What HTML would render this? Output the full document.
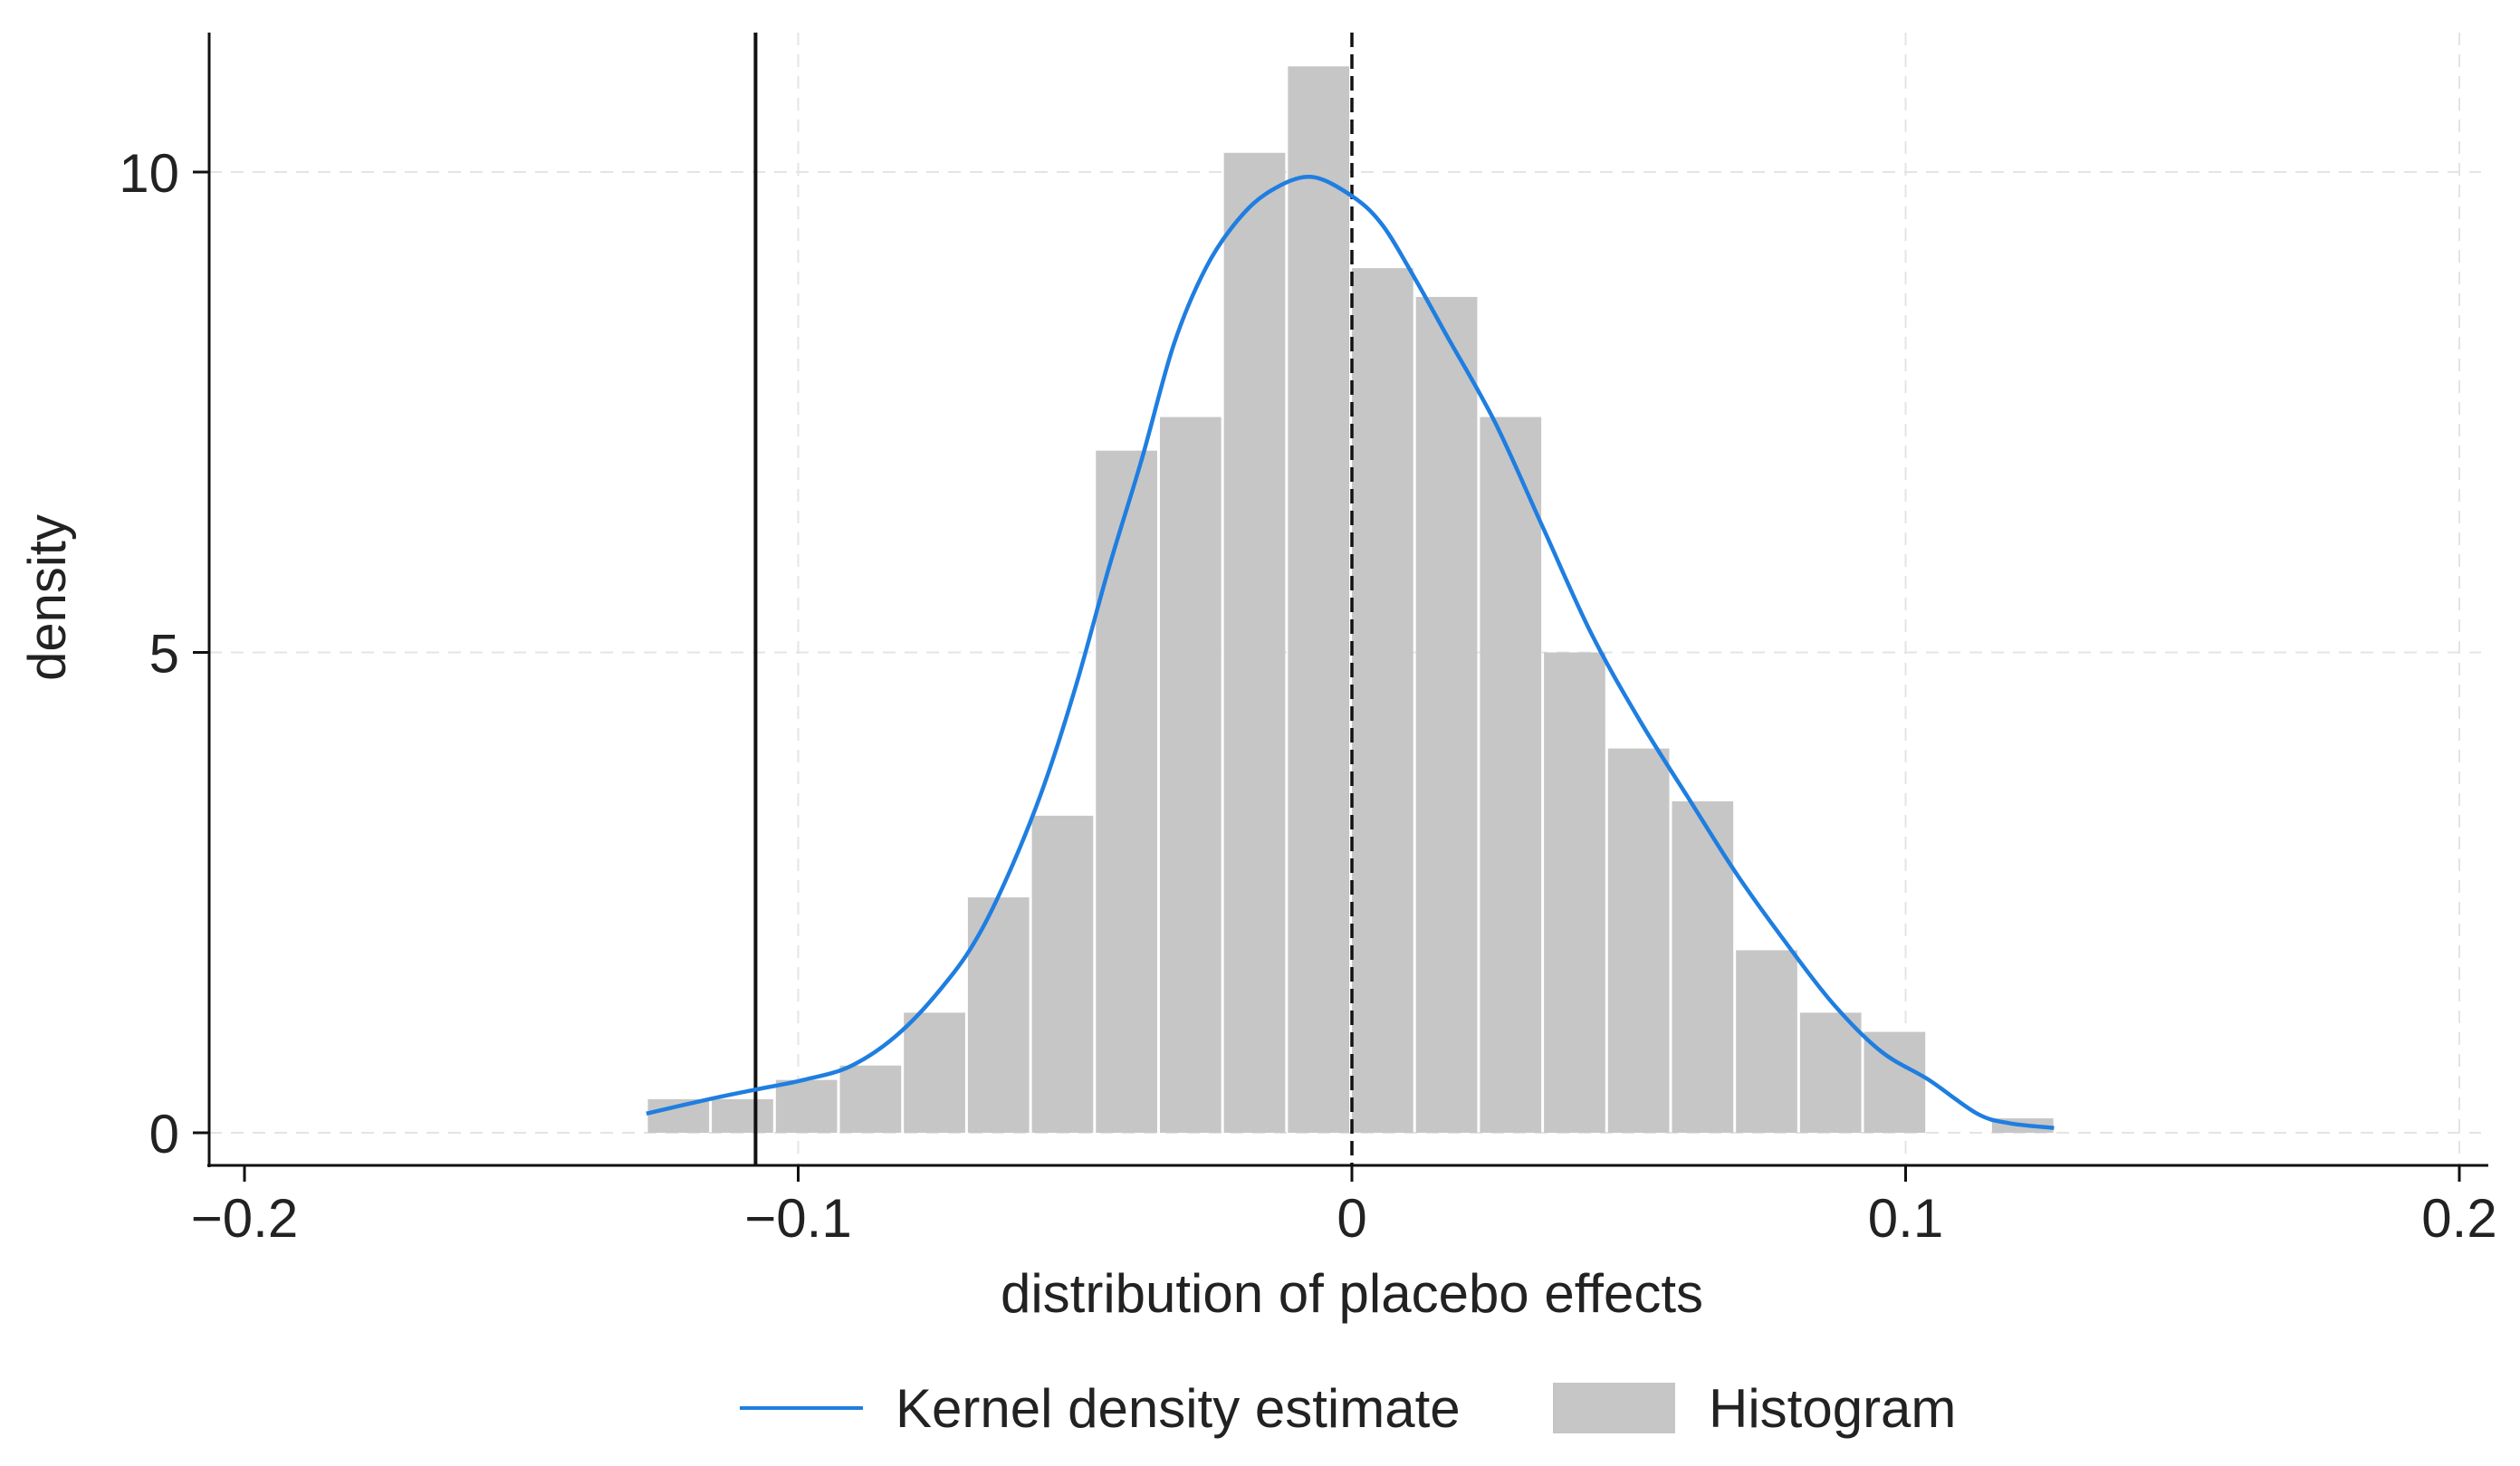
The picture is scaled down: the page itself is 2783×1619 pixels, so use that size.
<!DOCTYPE html>
<html><head><meta charset="utf-8"><style>
body{margin:0;background:#fff;}
svg{display:block;font-family:"Liberation Sans",Arial,sans-serif;}
</style></head><body>
<svg id="chart" width="2783" height="1619" viewBox="0 0 2783 1619">
<g id="grid"></g>
<g id="bars"></g>
<g id="lines"></g>
<g id="kde"></g>
<g id="axes"></g>
<text x="1493" y="1449" font-size="60" text-anchor="middle" fill="#222">distribution of placebo effects</text>
<text transform="translate(72,660) rotate(-90)" font-size="58" text-anchor="middle" fill="#222">density</text>
<g>
<line x1="817" y1="1555" x2="953" y2="1555" stroke="#1f7ee0" stroke-width="4"/>
<text x="989" y="1576" font-size="60" fill="#222">Kernel density estimate</text>
<rect x="1715" y="1527" width="135" height="56" fill="#c6c6c6"/>
<text x="1887" y="1576" font-size="60" fill="#222">Histogram</text>
</g>
</svg>
<script>
const binStart = -0.1274;
const binWidth = 0.01156;
const binHeights = [0.35,0.35,0.55,0.7,1.25,2.45,3.3,7.1,7.45,10.2,11.1,9.0,8.7,7.45,5.0,4.0,3.45,1.9,1.25,1.05,0,0.15];
const kdeX = [-0.1274,-0.1161,-0.1077,-0.0990,-0.0903,-0.0815,-0.0728,-0.0670,-0.0612,-0.0554,-0.0496,-0.0438,-0.0380,-0.0322,-0.0264,-0.0206,-0.0148,-0.0075,0,0.0055,0.0113,0.0171,0.0258,0.0345,0.0432,0.0519,0.0606,0.0694,0.0781,0.0868,0.0955,0.1042,0.1129,0.1187,0.1268];
const kdeY = [0.2,0.35,0.45,0.55,0.7,1.05,1.6,2.1,2.8,3.65,4.7,5.9,7.0,8.2,9.0,9.5,9.8,9.95,9.75,9.45,8.9,8.3,7.4,6.3,5.2,4.3,3.5,2.7,2.0,1.35,0.85,0.55,0.2,0.1,0.05];
const xTicks = [-0.2,-0.1,0,0.1,0.2];
const xTickLabels = ["\u22120.2","\u22120.1","0","0.1","0.2"];
const yTicks = [0,5,10];
const yTickLabels = ["0","5","10"];
const treatedEffect = -0.1077;

const NS="http://www.w3.org/2000/svg";
const X = v => 1493 + v*6115;
const Y = v => 1251 - v*106.1;
function mk(tag, attrs, parent){const e=document.createElementNS(NS,tag);for(const k in attrs)e.setAttribute(k,attrs[k]);document.getElementById(parent).appendChild(e);return e;}

yTicks.forEach((t,i)=>{
  const g=mk('line',{x1:231,x2:2740,y1:Y(t),y2:Y(t),stroke:'#e4e4e4','stroke-width':2,'stroke-dasharray':'14 10'},'grid');
  
  
});
xTicks.forEach((t,i)=>{
  if(t===0||t===-0.2)return;
  const g=mk('line',{x1:X(t),x2:X(t),y1:36,y2:1287,stroke:'#e4e4e4','stroke-width':2,'stroke-dasharray':'14 10'},'grid');
  
  
});
binHeights.forEach((h,i)=>{
  if(h<=0)return;
  const x0=X(binStart+i*binWidth), x1=X(binStart+(i+1)*binWidth);
  const r=mk('rect',{x:x0+1.5,y:Y(h),width:x1-x0-3,height:Y(0)-Y(h),fill:'#c6c6c6'},'bars');
  
  
});
const tl=mk('line',{x1:X(treatedEffect),x2:X(treatedEffect),y1:36,y2:1287,stroke:'#111','stroke-width':4},'lines');


const zl=mk('line',{x1:X(0),x2:X(0),y1:36,y2:1287,stroke:'#111','stroke-width':3.5,'stroke-dasharray':'16 8'},'lines');


// smooth catmull-rom path
const P=kdeX.map((x,i)=>[X(x),Y(kdeY[i])]);
let d='M'+P[0][0].toFixed(1)+','+P[0][1].toFixed(1);
for(let i=0;i<P.length-1;i++){
  const p0=P[Math.max(0,i-1)],p1=P[i],p2=P[i+1],p3=P[Math.min(P.length-1,i+2)];
  const c1=[p1[0]+(p2[0]-p0[0])/6,p1[1]+(p2[1]-p0[1])/6];
  const c2=[p2[0]-(p3[0]-p1[0])/6,p2[1]-(p3[1]-p1[1])/6];
  d+=' C'+c1[0].toFixed(1)+','+c1[1].toFixed(1)+' '+c2[0].toFixed(1)+','+c2[1].toFixed(1)+' '+p2[0].toFixed(1)+','+p2[1].toFixed(1);
}
const kl=mk('path',{d:d,fill:'none',stroke:'#1f7ee0','stroke-width':4.5,'stroke-linejoin':'round'},'kde');



const ya=mk('line',{x1:231,x2:231,y1:36,y2:1289,stroke:'#111','stroke-width':3},'axes');


const xa=mk('line',{x1:229,x2:2748,y1:1287,y2:1287,stroke:'#111','stroke-width':3},'axes');


xTicks.forEach((t,i)=>{
  const tk=mk('line',{x1:X(t),x2:X(t),y1:1287,y2:1305,stroke:'#111','stroke-width':3},'axes');
  
  
  const lb=mk('text',{x:X(t),y:1366,'font-size':60,'text-anchor':'middle',fill:'#222'},'axes');
  lb.textContent=xTickLabels[i];
  
  
});
yTicks.forEach((t,i)=>{
  const tk=mk('line',{x1:213,x2:231,y1:Y(t),y2:Y(t),stroke:'#111','stroke-width':3},'axes');
  
  
  const lb=mk('text',{x:198,y:Y(t)+22,'font-size':60,'text-anchor':'end',fill:'#222'},'axes');
  lb.textContent=yTickLabels[i];
  
  
});
</script>
</body></html>
